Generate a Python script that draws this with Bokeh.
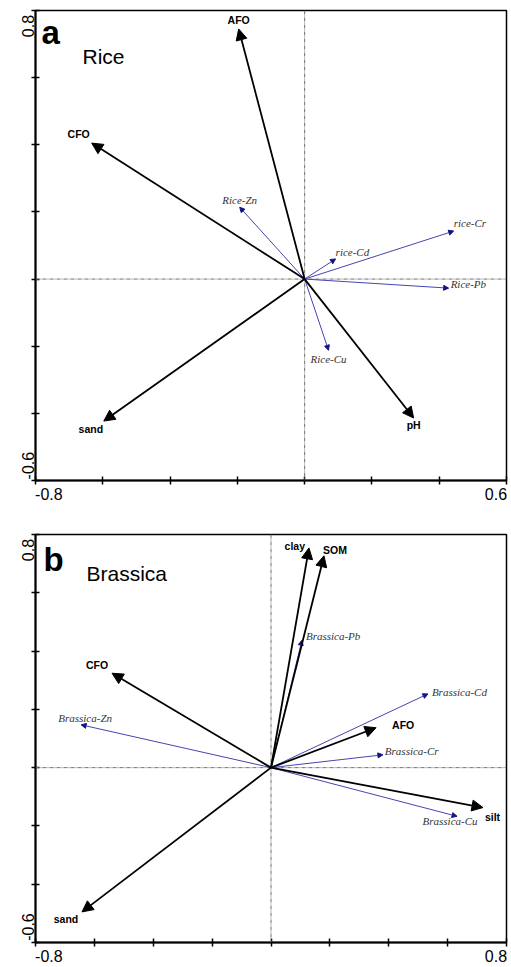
import math
from bokeh.plotting import figure
from bokeh.models import (Range1d, FixedTicker, Arrow, NormalHead, ColumnDataSource,
                          Span, Label)
from bokeh.layouts import column
from bokeh.embed import file_html
from bokeh.resources import INLINE
from bokeh.core.properties import value

# ---------------- data ----------------
rice_vars = ["AFO", "CFO", "sand", "pH"]
rice_var_x = [-0.196, -0.633, -0.597, 0.324]
rice_var_y = [0.745, 0.405, -0.423, -0.414]

rice_metals = ["Rice-Zn", "rice-Cd", "rice-Cr", "Rice-Pb", "Rice-Cu"]
rice_metal_x = [-0.193, 0.092, 0.443, 0.428, 0.071]
rice_metal_y = [0.214, 0.060, 0.143, -0.027, -0.212]

brassica_vars = ["clay", "SOM", "CFO", "AFO", "silt", "sand"]
brassica_var_x = [0.129, 0.180, -0.540, 0.357, 0.720, -0.642]
brassica_var_y = [0.754, 0.727, 0.324, 0.137, -0.137, -0.495]

brassica_metals = ["Brassica-Pb", "Brassica-Cd", "Brassica-Zn", "Brassica-Cr", "Brassica-Cu"]
brassica_metal_x = [0.105, 0.533, -0.645, 0.380, 0.632]
brassica_metal_y = [0.437, 0.253, 0.147, 0.044, -0.167]

rice_xlim = (-0.8, 0.6)
brassica_xlim = (-0.8, 0.8)
ylim = (-0.6, 0.8)
tick_step = 0.2

# label placement (screen offsets, px; +y = down) and alignment
rice_var_lab = [(0, -9, "center"), (-13, -9, "center"), (-13, 8, "center"), (0, 7, "center")]
rice_met_lab = [(0, -7, "center"), (0, -7, "left"), (0, -8, "left"), (2, -4, "left"), (0, 9, "center")]
bra_var_lab = [(-4, -2, "right"), (-1, -6, "left"), (-15, -8, "center"), (16, -3, "left"),
               (2, 9, "left"), (-16, 7, "center")]
bra_met_lab = [(4, -4, "left"), (4, -2, "left"), (4, -7, "center"), (2, -4, "left"), (-7, 5, "center")]

BLUE_LINE = "#4545b0"
BLUE_HEAD = "#141480"
TXT_GRAY = "#333333"
NB = "\u00a0"
# (letter dx, letter dy, title dx, title dy) in px
head_pos = {"a": (6, -3, 47, -34), "b": (8, -6, 51, -27)}
# padding (non-breaking spaces) for end tick labels: x-left, x-right, y-bottom, y-top
pad = {"a": (6, 1, 7, 1), "b": (6, 1, 6, 1)}


def make_panel(letter, title, xlim, height, top, bottom,
               vnames, vx, vy, vlab, mnames, mx, my, mlab):
    p = figure(width=511, height=height, x_range=Range1d(*xlim), y_range=Range1d(*ylim),
               output_backend="svg", toolbar_location=None,
               min_border_left=35, min_border_right=5,
               min_border_top=top, min_border_bottom=bottom)
    p.xgrid.visible = False
    p.ygrid.visible = False
    p.outline_line_color = "black"
    p.outline_line_width = 1.5
    p.outline_line_alpha = 1
    p.background_fill_color = "white"

    nx = int(round((xlim[1] - xlim[0]) / tick_step))
    ny = int(round((ylim[1] - ylim[0]) / tick_step))
    xt = [round(xlim[0] + i * tick_step, 1) for i in range(nx + 1)]
    yt = [round(ylim[0] + i * tick_step, 1) for i in range(ny + 1)]
    p.xaxis.ticker = FixedTicker(ticks=xt)
    p.yaxis.ticker = FixedTicker(ticks=yt)
    pxl, pxr, pyb, pyt = pad[letter]
    xo = {t: "" for t in xt}
    xo[xt[0]] = NB * pxl + f"{xt[0]:.1f}"
    xo[xt[-1]] = f"{xt[-1]:.1f}" + NB * pxr
    yo = {t: "" for t in yt}
    yo[yt[0]] = NB * pyb + f"{yt[0]:.1f}"
    yo[yt[-1]] = f"{yt[-1]:.1f}" + NB * pyt
    p.xaxis.major_label_overrides = xo
    p.yaxis.major_label_overrides = yo
    p.yaxis.major_label_orientation = math.pi / 2
    p.xaxis.major_label_standoff = 1
    p.yaxis.major_label_standoff = 3
    for ax in (p.xaxis, p.yaxis):
        ax.major_label_text_font_size = "16px"
        ax.major_label_text_font = "Liberation Sans"
        ax.major_label_text_color = "black"
        ax.axis_line_width = 2
        ax.axis_line_color = "black"
        ax.major_tick_line_width = 1.5
        ax.major_tick_line_color = "black"
        ax.major_tick_in = 4
        ax.major_tick_out = 4
        ax.minor_tick_line_color = None

    # center reference lines
    for dim in ("height", "width"):
        p.add_layout(Span(location=0, dimension=dim, line_color="#707070",
                          line_dash="4 1 1 1", line_width=1))

    # metal (blue) arrows
    msrc = ColumnDataSource(dict(x0=[0] * len(mx), y0=[0] * len(my), x1=mx, y1=my))
    p.add_layout(Arrow(x_start="x0", y_start="y0", x_end="x1", y_end="y1", source=msrc,
                       line_color=BLUE_LINE, line_width=1,
                       end=NormalHead(size=5, fill_color=BLUE_HEAD, line_color=BLUE_HEAD)))
    # environmental variables (black arrows)
    vsrc = ColumnDataSource(dict(x0=[0] * len(vx), y0=[0] * len(vy), x1=vx, y1=vy))
    p.add_layout(Arrow(x_start="x0", y_start="y0", x_end="x1", y_end="y1", source=vsrc,
                       line_color="black", line_width=1.8,
                       end=NormalHead(size=11, fill_color="black", line_color="black")))

    # labels
    for names, xs, ys, labs, bold in ((vnames, vx, vy, vlab, True), (mnames, mx, my, mlab, False)):
        for align in ("left", "center", "right"):
            idx = [i for i, l in enumerate(labs) if l[2] == align]
            if not idx:
                continue
            src = ColumnDataSource(dict(x=[xs[i] for i in idx], y=[ys[i] for i in idx],
                                        t=[names[i] for i in idx],
                                        dx=[labs[i][0] for i in idx],
                                        dy=[labs[i][1] for i in idx]))
            if bold:
                p.text(x="x", y="y", text="t", source=src, x_offset="dx", y_offset="dy",
                       text_align=align, text_baseline="middle",
                       text_font=value("Liberation Sans"), text_font_style="bold",
                       text_font_size="10.5px", text_color="black")
            else:
                p.text(x="x", y="y", text="t", source=src, x_offset="dx", y_offset="dy",
                       text_align=align, text_baseline="middle",
                       text_font=value("Liberation Serif"), text_font_style="italic",
                       text_font_size="11px", text_color=TXT_GRAY)

    # panel letter and title
    ldx, ldy, tdx, tdy = head_pos[letter]
    p.add_layout(Label(x=xlim[0], y=ylim[1], text=letter, x_offset=ldx, y_offset=ldy,
                       text_align="left", text_baseline="top",
                       text_font="Liberation Sans", text_font_style="bold",
                       text_font_size="33px", text_color="black"))
    p.add_layout(Label(x=xlim[0], y=ylim[1], text=title, x_offset=tdx, y_offset=tdy,
                       text_align="left", text_baseline="top",
                       text_font="Liberation Sans",
                       text_font_size="21px", text_color="black"))
    return p


pa = make_panel("a", "Rice", rice_xlim, 510, 10, 30,
                rice_vars, rice_var_x, rice_var_y, rice_var_lab,
                rice_metals, rice_metal_x, rice_metal_y, rice_met_lab)
pb = make_panel("b", "Brassica", brassica_xlim, 457, 24, 23,
                brassica_vars, brassica_var_x, brassica_var_y, bra_var_lab,
                brassica_metals, brassica_metal_x, brassica_metal_y, bra_met_lab)

layout = column(pa, pb, spacing=0)
open("out.html", "w").write(file_html(layout, INLINE))
